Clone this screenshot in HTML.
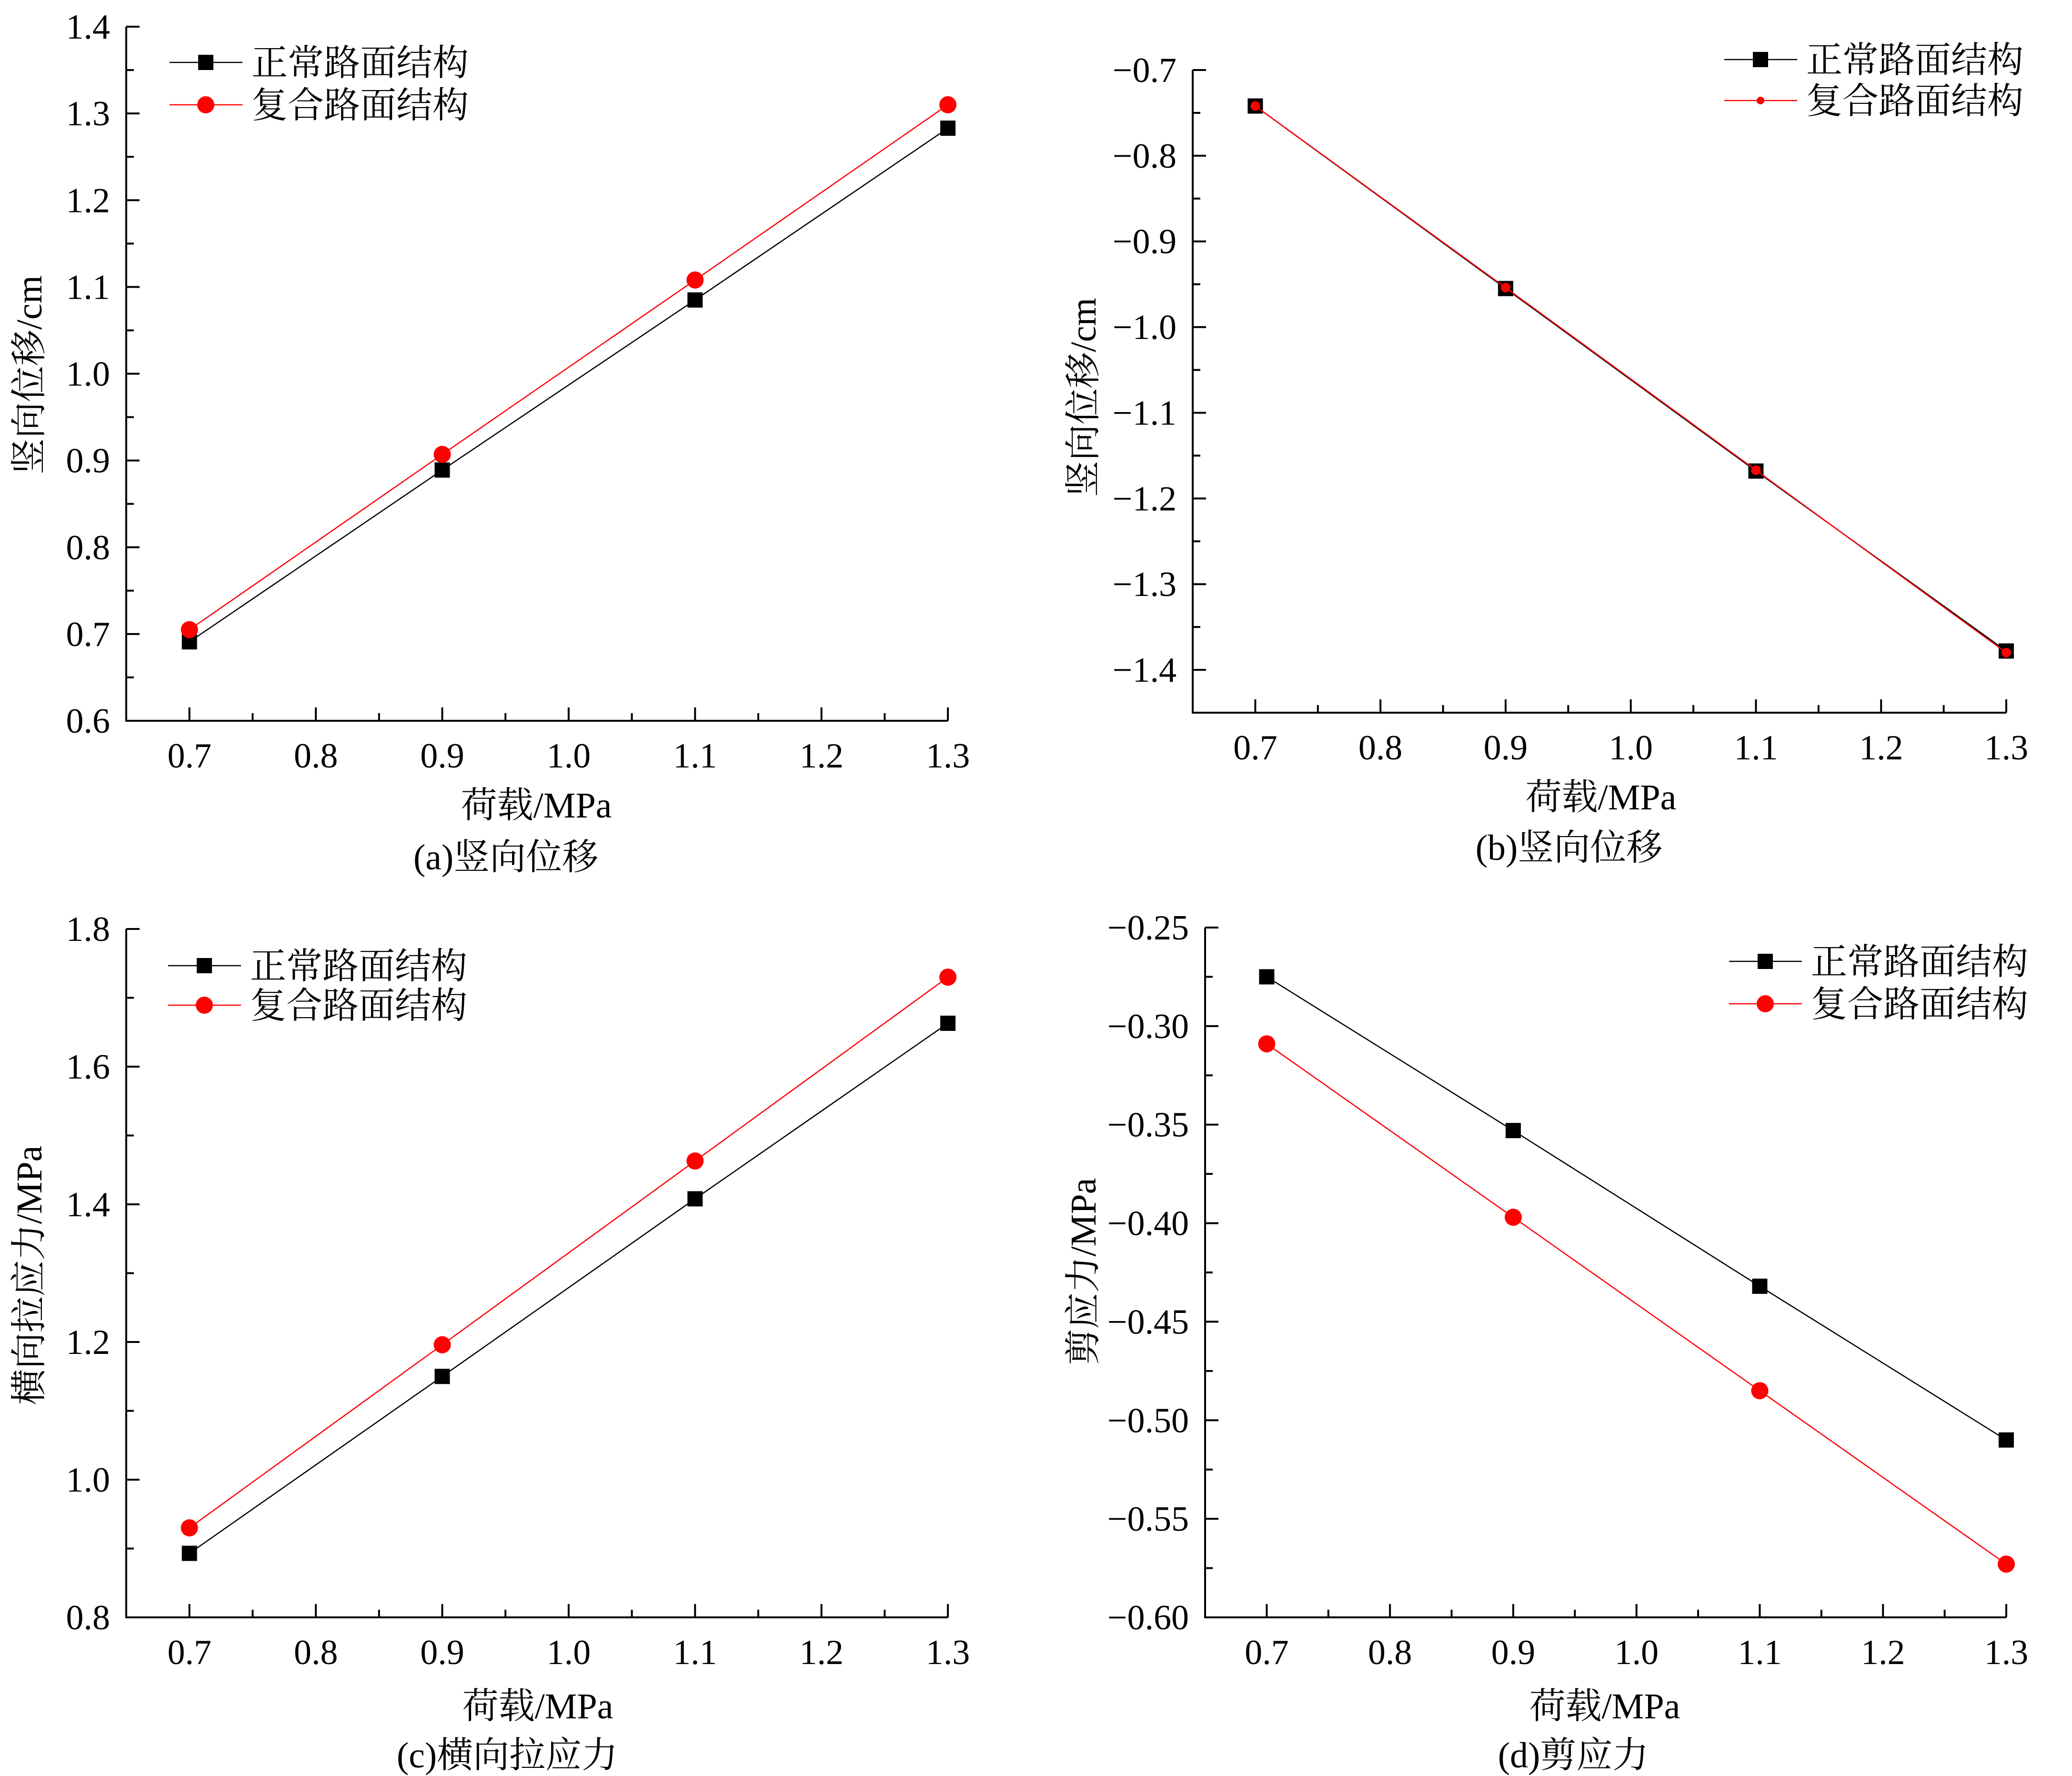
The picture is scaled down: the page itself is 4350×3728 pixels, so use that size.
<!DOCTYPE html>
<html><head><meta charset="utf-8"><style>
html,body{margin:0;padding:0;background:#fff;}
svg{display:block;}
text{font-family:"Liberation Serif","Noto Serif CJK SC","Noto Sans CJK SC",serif;fill:#000;}
</style></head><body>
<svg id="fig" width="4350" height="3728" viewBox="0 0 4350 3728" xmlns="http://www.w3.org/2000/svg"></svg>
<script>
const xCats = [0.7, 0.9, 1.1, 1.3];
const xTickLabels = ["0.7","0.8","0.9","1.0","1.1","1.2","1.3"];
const xTickValues = [0.7,0.8,0.9,1.0,1.1,1.2,1.3];
const seriesNames = ["正常路面结构","复合路面结构"];

const aNormal = [0.691, 0.889, 1.085, 1.283];
const aComposite = [0.705, 0.907, 1.108, 1.310];
const aYTicks = [0.6,0.7,0.8,0.9,1.0,1.1,1.2,1.3,1.4];
const aYLabels = ["0.6","0.7","0.8","0.9","1.0","1.1","1.2","1.3","1.4"];

const bNormal = [-0.742, -0.955, -1.168, -1.378];
const bComposite = [-0.742, -0.954, -1.167, -1.380];
const bYTicks = [-1.4,-1.3,-1.2,-1.1,-1.0,-0.9,-0.8,-0.7];
const bYLabels = ["−1.4","−1.3","−1.2","−1.1","−1.0","−0.9","−0.8","−0.7"];

const cNormal = [0.893, 1.150, 1.408, 1.663];
const cComposite = [0.930, 1.196, 1.463, 1.730];
const cYTicks = [0.8,1.0,1.2,1.4,1.6,1.8];
const cYLabels = ["0.8","1.0","1.2","1.4","1.6","1.8"];

const dNormal = [-0.275, -0.353, -0.432, -0.510];
const dComposite = [-0.309, -0.397, -0.485, -0.573];
const dYTicks = [-0.60,-0.55,-0.50,-0.45,-0.40,-0.35,-0.30,-0.25];
const dYLabels = ["−0.60","−0.55","−0.50","−0.45","−0.40","−0.35","−0.30","−0.25"];

const svg = document.getElementById('fig');
const NS = 'http://www.w3.org/2000/svg';
function mk(tag, attrs, parent){
  const e = document.createElementNS(NS, tag);
  for (const k in attrs) e.setAttribute(k, attrs[k]);
  parent.appendChild(e);
  return e;
}

function panel(cfg){
  const g = mk('g', {}, svg);
  
  
  const sx = v => cfg.x0 + (v - cfg.xmin) / (cfg.xmax - cfg.xmin) * (cfg.x1 - cfg.x0);
  const sy = v => cfg.y0 - (v - cfg.ymin) / (cfg.ymax - cfg.ymin) * (cfg.y0 - cfg.y1);
  const ax = mk('path', {d:`M${cfg.x0},${cfg.y1} L${cfg.x0},${cfg.y0} L${cfg.x1},${cfg.y0}`, fill:'none', stroke:'#000', 'stroke-width':4}, g);
  
  
  const yt = cfg.yTicks;
  for (let i = 0; i < yt.length; i++){
    const y = sy(yt[i]);
    mk('line', {x1:cfg.x0, x2:cfg.x0+28, y1:y, y2:y, stroke:'#000','stroke-width':4}, g);
    const t = mk('text', {x:cfg.x0-34, y:y+25, 'text-anchor':'end', 'font-size':74}, g);
    t.textContent = cfg.yLabels[i];
    
    
    if (i < yt.length - 1){
      const ym = sy((yt[i] + yt[i+1]) / 2);
      mk('line', {x1:cfg.x0, x2:cfg.x0+16, y1:ym, y2:ym, stroke:'#000','stroke-width':4}, g);
    }
  }
  for (let i = 0; i < xTickValues.length; i++){
    const x = sx(xTickValues[i]);
    mk('line', {x1:x, x2:x, y1:cfg.y0, y2:cfg.y0-28, stroke:'#000','stroke-width':4}, g);
    const t = mk('text', {x:x, y:cfg.y0+98, 'text-anchor':'middle', 'font-size':74}, g);
    t.textContent = xTickLabels[i];
    
    
    const xm = sx(xTickValues[i] - 0.05);
    mk('line', {x1:xm, x2:xm, y1:cfg.y0, y2:cfg.y0-16, stroke:'#000','stroke-width':4}, g);
  }
  const sets = [
    {vals: cfg.normal, color:'#000', marker:'square', name:'series-normal'},
    {vals: cfg.composite, color:'#ff0000', marker:'circle', name:'series-composite'}
  ];
  sets.forEach(s => {
    const pts = s.vals.map((v,i) => sx(xCats[i]) + ',' + sy(v)).join(' ');
    const pl = mk('polyline', {points:pts, fill:'none', stroke:s.color, 'stroke-width':2.5}, g);
    
    
    s.vals.forEach((v,i) => {
      let m;
      if (s.marker === 'square') m = mk('rect', {x:sx(xCats[i])-16, y:sy(v)-16, width:32, height:32, fill:'#000'}, g);
      else m = mk('circle', {cx:sx(xCats[i]), cy:sy(v), r:cfg.smallDot?10:18, fill:'#ff0000'}, g);
      
      
    });
  });
  const lg = mk('g', {}, g);
  
  
  [0,1].forEach(k => {
    const y = cfg.legY[k];
    mk('line', {x1:cfg.legX, x2:cfg.legX+153, y1:y, y2:y, stroke:k?'#ff0000':'#000','stroke-width':2.5}, lg);
    if (k === 0) mk('rect', {x:cfg.legX+76-16, y:y-16, width:32, height:32, fill:'#000'}, lg);
    else mk('circle', {cx:cfg.legX+76, cy:y, r:cfg.smallDot?8:18, fill:'#ff0000'}, lg);
    const t = mk('text', {x:cfg.legX+172, y:y+27, 'font-size':76}, lg);
    t.textContent = seriesNames[k];
    
    
  });
  const xt = mk('text', {x:cfg.xlX, y:cfg.xlY+26, 'text-anchor':'middle', 'font-size':76}, g);
  xt.textContent = '荷载/MPa';
  
  
  const ytl = mk('text', {x:0, y:0, 'text-anchor':'middle', 'font-size':76, transform:`translate(${cfg.ylX+26},${cfg.ylY}) rotate(-90)`}, g);
  ytl.textContent = cfg.ylabel;
  
  
  const cp = mk('text', {x:cfg.capX, y:cfg.capY+26, 'text-anchor':'middle', 'font-size':76}, g);
  cp.textContent = cfg.caption;
  
  
}

panel({id:'panel-a', x0:265, x1:1990, y0:1513, y1:56, xmin:0.65, xmax:1.3, ymin:0.6, ymax:1.4,
  yTicks:aYTicks, yLabels:aYLabels, normal:aNormal, composite:aComposite,
  legX:356, legY:[131,220], xlX:1126, xlY:1690, ylX:61, ylY:787, ylabel:'竖向位移/cm', capX:1062, capY:1799, caption:'(a)竖向位移'});
panel({id:'panel-b', x0:2504, x1:4212, y0:1496, y1:147, xmin:0.65, xmax:1.3, ymin:-1.45, ymax:-0.7,
  yTicks:bYTicks, yLabels:bYLabels, normal:bNormal, composite:bComposite, smallDot:true,
  legX:3620, legY:[125,211], xlX:3361, xlY:1673, ylX:2274, ylY:834, ylabel:'竖向位移/cm', capX:3294, capY:1779, caption:'(b)竖向位移'});
panel({id:'panel-c', x0:265, x1:1990, y0:3395, y1:1950, xmin:0.65, xmax:1.3, ymin:0.8, ymax:1.8,
  yTicks:cYTicks, yLabels:cYLabels, normal:cNormal, composite:cComposite,
  legX:353, legY:[2027,2110], xlX:1129, xlY:3581, ylX:61, ylY:2677, ylabel:'横向拉应力/MPa', capX:1065, capY:3684, caption:'(c)横向拉应力'});
panel({id:'panel-d', x0:2530, x1:4212, y0:3395, y1:1947, xmin:0.65, xmax:1.3, ymin:-0.6, ymax:-0.25,
  yTicks:dYTicks, yLabels:dYLabels, normal:dNormal, composite:dComposite,
  legX:3630, legY:[2018,2107], xlX:3369, xlY:3581, ylX:2274, ylY:2669, ylabel:'剪应力/MPa', capX:3303, capY:3684, caption:'(d)剪应力'});
</script>
</body></html>
